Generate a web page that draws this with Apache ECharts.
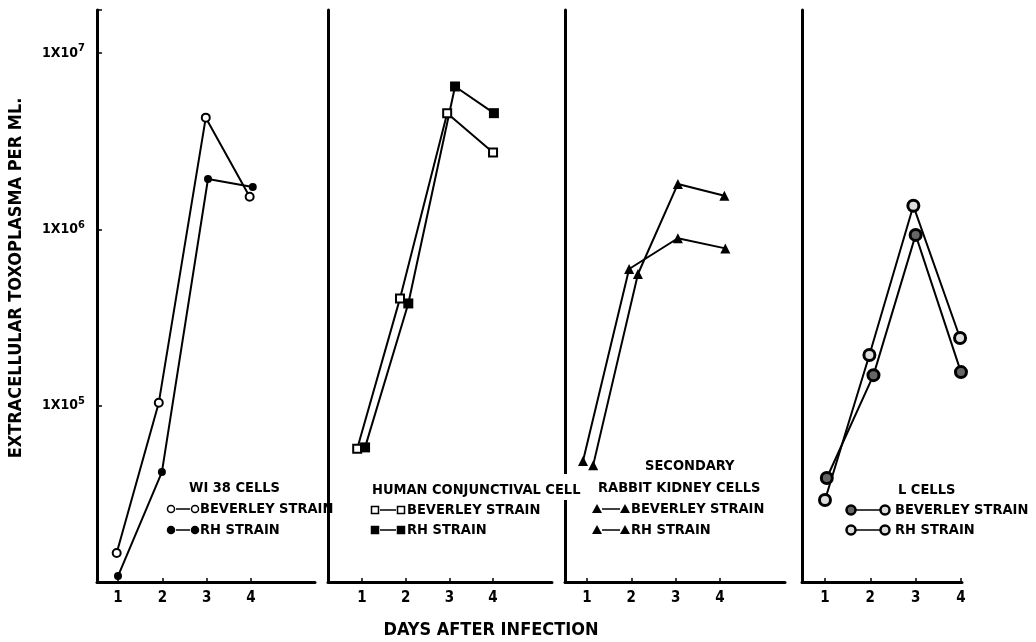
<!DOCTYPE html>
<html>
<head>
<meta charset="utf-8">
<script src="https://cdn.jsdelivr.net/npm/echarts@6/dist/echarts.min.js"></script>
<style>
html, body { margin: 0; padding: 0; background: #fff; }
#main { width: 1036px; height: 642px; }
</style>
</head>
<body>
<div id="main"></div>
<script>
var days = [1, 2, 3, 4];
var yTicks = [1e5, 1e6, 1e7];

// WI 38 cells
var wiBevX = [0.97, 1.92, 2.98, 3.97];
var wiBev = [1.46e4, 1.04e5, 4.3e6, 1.53e6];
var wiRhX = [1.0, 1.99, 3.03, 4.04];
var wiRh = [1.08e4, 4.2e4, 1.93e6, 1.74e6];

// human conjunctival cells
var hcBevX = [0.89, 1.87, 2.95, 4.0];
var hcBev = [5.7e4, 4.06e5, 4.56e6, 2.73e6];
var hcRhX = [1.07, 2.06, 3.13, 4.02];
var hcRh = [5.8e4, 3.8e5, 6.46e6, 4.56e6];

// secondary rabbit kidney cells
var rkBevX = [0.91, 1.95, 3.05, 4.12];
var rkBev = [4.86e4, 5.96e5, 8.9e5, 7.8e5];
var rkRhX = [1.14, 2.15, 3.05, 4.1];
var rkRh = [4.6e4, 5.58e5, 1.81e6, 1.55e6];

// L cells
var lcBevX = [1.04, 2.07, 3.0, 4.0];
var lcBev = [3.89e4, 1.49e5, 9.3e5, 1.55e5];
var lcRhX = [1.0, 1.98, 2.95, 3.98];
var lcRh = [2.92e4, 1.94e5, 1.36e6, 2.42e5];

var FONT = "'DejaVu Sans Condensed', 'DejaVu Sans', sans-serif";
var chart = echarts.init(document.getElementById('main'));

function pairs(xs, ys) {
    var out = [];
    for (var i = 0; i < xs.length; i++) out.push([xs[i], ys[i]]);
    return out;
}

var grids = [
    {left: 97, top: 10, width: 218, height: 572},
    {left: 328, top: 10, width: 224, height: 572},
    {left: 565, top: 10, width: 220, height: 572},
    {left: 802, top: 10, width: 160, height: 572}
];
var xRanges = [[0.526, 5.444], [0.2215, 5.35], [0.504, 5.467], [0.493, 4.023]];

var xAxes = [], yAxes = [];
for (let i = 0; i < 4; i++) {
    grids[i].outerBoundsMode = 'none';
    xAxes.push({
        type: 'value', gridIndex: i, min: xRanges[i][0], max: xRanges[i][1],
        splitLine: {show: false},
        axisLine: {show: true, onZero: false, lineStyle: {color: '#000', width: 3}},
        axisTick: {show: true, inside: true, length: 4, customValues: days, lineStyle: {color: '#000', width: 1.5}},
        axisLabel: {show: true, customValues: days, margin: 9, color: '#000',
            fontFamily: FONT, fontWeight: 'bold', fontSize: 15}
    });
    yAxes.push({
        type: 'log', logBase: 10, gridIndex: i, min: 1e4, max: 1.754e7,
        splitLine: {show: false},
        axisLine: {show: true, lineStyle: {color: '#000', width: 3}},
        axisTick: {show: i === 0, inside: true, length: 5, lineStyle: {color: '#000', width: 1.5}},
        axisLabel: {
            show: i === 0, margin: 12, color: '#000',
            formatter: function (v) {
                var e = Math.round(Math.log10(v));
                if (Math.abs(Math.log10(v) - e) > 1e-6 || e < 5) return '';
                return '{b|1X10}{s|' + e + '}';
            },
            rich: {
                b: {fontFamily: FONT, fontWeight: 'bold', fontSize: 14, color: '#000'},
                s: {fontFamily: FONT, fontWeight: 'bold', fontSize: 11, color: '#000', padding: [0, 0, 9, 0]}
            }
        }
    });
}

function line(name, idx, xs, ys, symbol, size, fill, border) {
    return {
        name: name, type: 'line', xAxisIndex: idx, yAxisIndex: idx,
        data: pairs(xs, ys), symbol: symbol, symbolSize: size,
        itemStyle: {color: fill, borderColor: '#000', borderWidth: border},
        lineStyle: {color: '#000', width: 2},
        z: 5
    };
}

var series = [
    line('WI 38 Beverley', 0, wiBevX, wiBev, 'circle', 8, '#fff', 2),
    line('WI 38 RH', 0, wiRhX, wiRh, 'circle', 8, '#000', 0),
    line('HC Beverley', 1, hcBevX, hcBev, 'rect', 8, '#fff', 2),
    line('HC RH', 1, hcRhX, hcRh, 'rect', 10, '#000', 0),
    line('RK Beverley', 2, rkBevX, rkBev, 'triangle', 10, '#000', 0),
    line('RK RH', 2, rkRhX, rkRh, 'triangle', 10, '#000', 0),
    line('L Beverley', 3, lcBevX, lcBev, 'circle', 11, '#666', 3),
    line('L RH', 3, lcRhX, lcRh, 'circle', 11, '#ddd', 3)
];

// legend drawing
var g = [];
var LFONT = 'bold 14.5px ' + FONT;
function txt(s, x, y, align) {
    g.push({type: 'text', x: x, y: y, z: 20,
        style: {text: s, fill: '#000', font: LFONT, align: align || 'left', verticalAlign: 'middle'}});
}
function mark(kind, x, y, fill) {
    if (kind === 'circle') g.push({type: 'circle', z: 20, shape: {cx: x, cy: y, r: 3.5}, style: {fill: fill, stroke: '#000', lineWidth: 1.5}});
    if (kind === 'bigcircle') g.push({type: 'circle', z: 20, shape: {cx: x, cy: y, r: 4.5}, style: {fill: fill, stroke: '#000', lineWidth: 2.5}});
    if (kind === 'rect') g.push({type: 'rect', z: 20, shape: {x: x - 3.5, y: y - 3.5, width: 7, height: 7}, style: {fill: fill, stroke: '#000', lineWidth: 1.5}});
    if (kind === 'tri') g.push({type: 'polygon', z: 20, shape: {points: [[x, y - 5], [x - 5, y + 4], [x + 5, y + 4]]}, style: {fill: '#000'}});
}
function row(kind, x1, x2, y, fill1, fill2, label, tx) {
    g.push({type: 'line', z: 20, shape: {x1: x1 + 5, y1: y, x2: x2 - 5, y2: y}, style: {stroke: '#000', lineWidth: 1.5}});
    mark(kind, x1, y, fill1);
    mark(kind, x2, y, fill2);
    txt(label, tx, y);
}

// break in panel 3 axis behind text
g.push({type: 'rect', z: 15, shape: {x: 560, y: 474, width: 10, height: 26}, style: {fill: '#fff'}});

txt('WI 38 CELLS', 189, 488);
row('circle', 171, 195, 509, '#fff', '#fff', 'BEVERLEY STRAIN', 200);
row('circle', 171, 195, 530, '#000', '#000', 'RH STRAIN', 200);

txt('HUMAN CONJUNCTIVAL CELL', 372, 490);
row('rect', 375, 401, 510, '#fff', '#fff', 'BEVERLEY STRAIN', 407);
row('rect', 375, 401, 530, '#000', '#000', 'RH STRAIN', 407);

txt('SECONDARY', 645, 466);
txt('RABBIT KIDNEY CELLS', 598, 488);
row('tri', 597, 625, 509, '#000', '#000', 'BEVERLEY STRAIN', 631);
row('tri', 597, 625, 530, '#000', '#000', 'RH STRAIN', 631);

txt('L CELLS', 898, 490);
row('bigcircle', 851, 885, 510, '#666', '#ddd', 'BEVERLEY STRAIN', 895);
row('bigcircle', 851, 885, 530, '#ddd', '#ddd', 'RH STRAIN', 895);

g.push({type: 'text', x: 491, y: 630, z: 20,
    style: {text: 'DAYS AFTER INFECTION', fill: '#000', font: 'bold 18px ' + FONT, align: 'center', verticalAlign: 'middle'}});
g.push({type: 'text', x: 16, y: 278, rotation: Math.PI / 2, z: 20,
    style: {text: 'EXTRACELLULAR TOXOPLASMA PER ML.', fill: '#000', font: 'bold 18px ' + FONT, align: 'center', verticalAlign: 'middle'}});

chart.setOption({
    backgroundColor: '#fff',
    animation: false,
    grid: grids,
    xAxis: xAxes,
    yAxis: yAxes,
    series: series,
    graphic: g
});
</script>
</body>
</html>
